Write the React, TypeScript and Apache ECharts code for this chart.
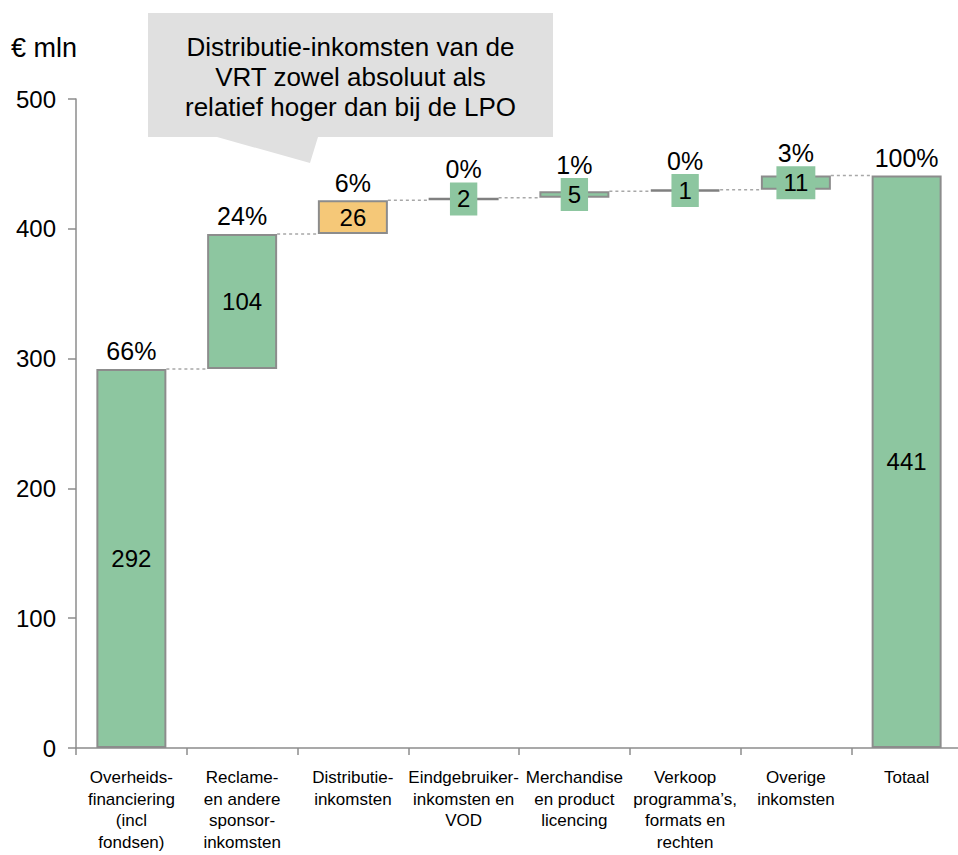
import React, { useEffect, useRef } from "react";
import * as echarts from "echarts";

const categories = [
  "Overheids-\nfinanciering\n(incl\nfondsen)",
  "Reclame-\nen andere\nsponsor-\ninkomsten",
  "Distributie-\ninkomsten",
  "Eindgebruiker-\ninkomsten en\nVOD",
  "Merchandise\nen product\nlicencing",
  "Verkoop\nprogramma’s,\nformats en\nrechten",
  "Overige\ninkomsten",
  "Totaal",
];
const values = [292, 104, 26, 2, 5, 1, 11, 441];
const percents = ["66%", "24%", "6%", "0%", "1%", "0%", "3%", "100%"];
const highlightIndex = 2;
const yTicks = { min: 0, max: 500, interval: 100 };
const unitLabel = "€ mln";
const calloutText = "Distributie-inkomsten van de\nVRT zowel absoluut als\nrelatief hoger dan bij de LPO";

const FONT = "'Liberation Sans', Arial, Helvetica, sans-serif";
const GREEN = "#8DC6A0";
const ORANGE = "#F5C878";
const BORDER = "#8C8C8C";
const BAR_W = 70;

export default function App() {
  const ref = useRef<HTMLDivElement>(null);

  useEffect(() => {
    document.body.style.margin = "0";
    if (!ref.current) return;
    const chart = echarts.init(ref.current, undefined, { renderer: "svg" });

    const last = values.length - 1;
    let run = 0;
    const bases = values.map((v, i) => {
      if (i === last) return 0;
      const b = run;
      run += v;
      return b;
    });
    const tops = values.map((v, i) => bases[i] + v);
    const small = values.map((v) => v < 15);

    const connectorData = tops.slice(0, last).map((t, i) => [i, t]);

    const option: any = {
      animation: false,
      textStyle: { fontFamily: FONT },
      grid: {
        left: 76,
        top: 99,
        width: 886,
        height: 649,
        containLabel: false,
        outerBoundsMode: "none",
      },
      xAxis: {
        type: "category",
        data: categories,
        boundaryGap: true,
        axisLine: { show: true, lineStyle: { color: BORDER, width: 1.5 } },
        axisTick: { show: true, length: 7, lineStyle: { color: BORDER, width: 1.5 } },
        axisLabel: {
          interval: 0,
          margin: 19,
          color: "#000",
          fontSize: 17,
          lineHeight: 21.5,
          fontFamily: FONT,
          align: "center",
          verticalAlign: "top",
        },
        splitLine: { show: false },
      },
      yAxis: {
        type: "value",
        min: yTicks.min,
        max: yTicks.max,
        interval: yTicks.interval,
        axisLine: { show: true, lineStyle: { color: BORDER, width: 1.5 } },
        axisTick: { show: true, length: 8, lineStyle: { color: BORDER, width: 1.5 } },
        axisLabel: { color: "#000", fontSize: 24, margin: 20, fontFamily: FONT },
        splitLine: { show: false },
      },
      graphic: [
        {
          type: "polygon",
          shape: {
            points: [
              [148, 13],
              [553, 13],
              [553, 137],
              [318, 137],
              [310, 163],
              [217, 137],
              [148, 137],
            ],
          },
          style: { fill: "#E0E0E0" },
          z: 0,
        },
        {
          type: "text",
          x: 350.5,
          y: 77,
          style: {
            text: calloutText,
            fill: "#000",
            fontSize: 26,
            lineHeight: 30,
            fontFamily: FONT,
            align: "center",
            verticalAlign: "middle",
          },
          z: 1,
        },
        {
          type: "text",
          x: 11,
          y: 48,
          style: {
            text: unitLabel,
            fill: "#000",
            fontSize: 27,
            fontFamily: FONT,
            align: "left",
            verticalAlign: "middle",
          },
        },
      ],
      series: [
        {
          type: "custom",
          name: "connectors",
          z: 1,
          silent: true,
          data: connectorData,
          encode: { x: 0, y: 1 },
          renderItem: (params: any, api: any) => {
            const i = api.value(0);
            const y = api.value(1);
            const p0 = api.coord([i, y]);
            const p1 = api.coord([i + 1, y]);
            const half = BAR_W / 2;
            return {
              type: "line",
              shape: { x1: p0[0] + half, y1: p0[1], x2: p1[0] - half, y2: p1[1] },
              style: { stroke: "#A8A8A8", lineWidth: 1.5, lineDash: [3, 3] },
            };
          },
        },
        {
          type: "bar",
          name: "base",
          stack: "w",
          barWidth: BAR_W,
          silent: true,
          itemStyle: { color: "transparent", borderWidth: 0 },
          data: bases,
          z: 2,
        },
        {
          type: "bar",
          name: "value",
          stack: "w",
          barWidth: BAR_W,
          z: 3,
          data: values.map((v, i) => ({
            value: v,
            itemStyle: {
              color: i === highlightIndex ? ORANGE : small[i] && v < 3 ? "#808080" : GREEN,
              borderColor: small[i] && v < 3 ? "#808080" : BORDER,
              borderWidth: small[i] && v < 3 ? 2.5 : 2,
            },
            label: small[i]
              ? {
                  show: true,
                  position: "inside",
                  color: "#000",
                  fontSize: 24,
                  lineHeight: 25,
                  fontFamily: FONT,
                  backgroundColor: GREEN,
                  padding: [4, 7],
                }
              : {
                  show: true,
                  position: "inside",
                  color: "#000",
                  fontSize: 24,
                  fontFamily: FONT,
                },
          })),
        },
        {
          type: "scatter",
          name: "pct",
          symbolSize: 0,
          z: 5,
          silent: true,
          itemStyle: { opacity: 1 },
          data: tops.map((t, i) => ({
            value: [i, small[i] ? bases[i] + values[i] / 2 : t],
            itemStyle: { opacity: 1 },
            label: {
              show: true,
              position: "top",
              distance: small[i] ? 17 : 5,
              formatter: () => percents[i],
              color: "#000",
              opacity: 1,
              fontSize: 25,
              fontFamily: FONT,
            },
          })),
        },
      ],
    };

    chart.setOption(option);
    return () => chart.dispose();
  }, []);

  return (
    <div
      ref={ref}
      style={{ position: "absolute", left: 0, top: 0, width: 958, height: 855 }}
    />
  );
}
